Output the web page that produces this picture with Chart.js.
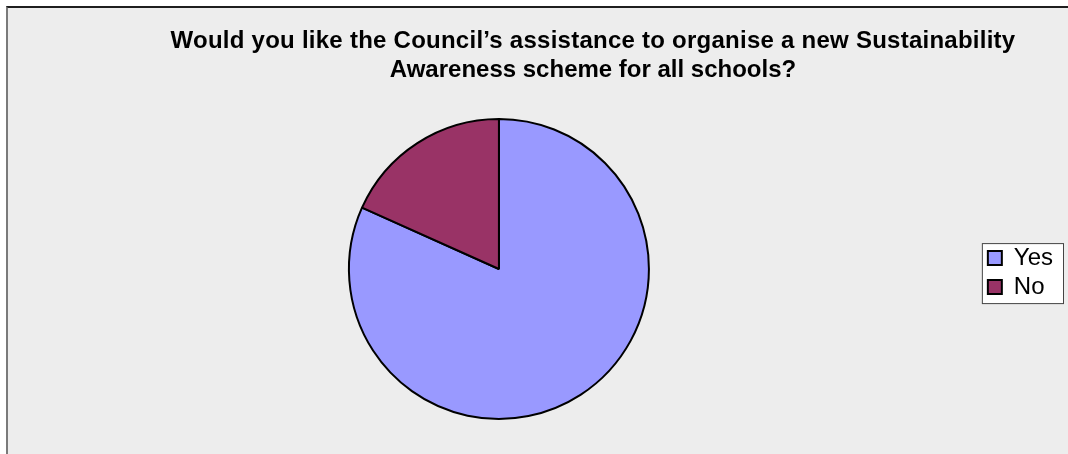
<!DOCTYPE html>
<html>
<head>
<meta charset="utf-8">
<script src="https://cdn.jsdelivr.net/npm/chart.js@4"></script>
<style>
    body { margin: 0; background: #ffffff; overflow: hidden; }
    #frame {
        position: absolute;
        left: 6px;
        top: 6px;
        width: 1062px;
        height: 448px;
        border-left: 2px solid #7a7a7a;
        border-top: 2px solid #1e1e1e;
        background: #ededed;
    }
    canvas { display: block; }
</style>
</head>
<body>
<div id="frame"><canvas id="survey-pie" width="1060" height="446"></canvas></div>
<script>
    // Datos
    const answers = ["Yes", "No"];
    const shares = [81.7, 18.3];
    const sliceColors = ["#9999ff", "#993366"];
    const titleLines = [
        "Would you like the Council\u2019s assistance to organise a new Sustainability",
        "Awareness scheme for all schools?",
    ];

    const fontFamily = "'Liberation Sans', Arial, sans-serif";

    // Titulo dibujado a mano porque va desplazado respecto al pastel
    const titlePlugin = {
        id: "titleLines",
        afterDraw(chart) {
            const ctx = chart.ctx;
            ctx.save();
            ctx.fillStyle = "#000000";
            ctx.font = "bold 24px " + fontFamily;
            ctx.textAlign = "center";
            ctx.textBaseline = "alphabetic";
            titleLines.forEach((line, i) => {
                // la primera linea del original va algo mas ancha
                ctx.letterSpacing = i === 0 ? "0.25px" : "0px";
                ctx.fillText(line, 585, 40 + i * 29);
            });
            ctx.restore();
        },
    };

    // Caja blanca con borde detras de la leyenda
    const legendBox = {
        id: "legendBox",
        beforeDraw(chart) {
            const boxes = chart.legend.legendHitBoxes;
            if (!boxes || !boxes.length) return;
            const left = Math.min(...boxes.map((b) => b.left)) - 6;
            const right = Math.max(...boxes.map((b) => b.left + b.width)) + 10;
            const top = boxes[0].top - 3;
            const last = boxes[boxes.length - 1];
            const bottom = last.top + last.height + 4;
            const ctx = chart.ctx;
            ctx.save();
            ctx.fillStyle = "#ffffff";
            ctx.fillRect(left, top, right - left, bottom - top);
            ctx.strokeStyle = "#444444";
            ctx.lineWidth = 1;
            ctx.strokeRect(left + 0.5, top + 0.5, right - left, bottom - top);
            ctx.restore();
        },
    };

    const ctx = document.getElementById("survey-pie").getContext("2d");
    new Chart(ctx, {
        type: "pie",
        data: {
            labels: answers,
            datasets: [
                {
                    data: shares,
                    backgroundColor: sliceColors,
                    borderColor: "#000000",
                    borderWidth: 2,
                    radius: 150,
                },
            ],
        },
        options: {
            responsive: false,
            animation: false,
            layout: {
                padding: { top: 76, bottom: 0, left: 7, right: 5 },
            },
            plugins: {
                title: { display: false },
                tooltip: { enabled: false },
                legend: {
                    position: "right",
                    // titulo vacio solo para bajar un poco los elementos
                    title: {
                        display: true,
                        text: "",
                        font: { size: 1 },
                        padding: { top: 0, bottom: 6 },
                    },
                    labels: {
                        boxWidth: 14,
                        boxHeight: 14,
                        padding: 5,
                        color: "#000000",
                        font: { family: fontFamily, size: 24 },
                    },
                },
            },
        },
        plugins: [legendBox, titlePlugin],
    });
</script>
</body>
</html>
